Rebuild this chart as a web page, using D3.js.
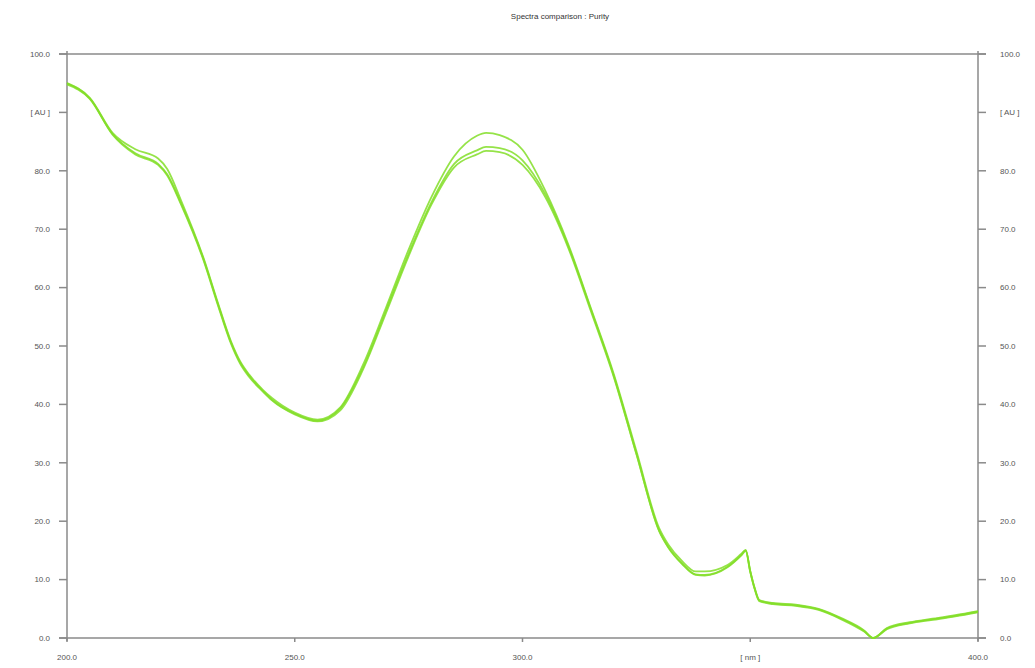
<!DOCTYPE html>
<html>
<head>
<meta charset="utf-8">
<script src="https://cdn.jsdelivr.net/npm/d3@7"></script>
<style>
  body { margin: 0; background: #fff; }
  text { font-family: Arial, "Liberation Sans", sans-serif; }
</style>
</head>
<body>
<div id="chart"></div>
<script>
var width = 1035,
    height = 668,
    margin = {top: 54, right: 57, bottom: 30, left: 67};

// wavelength [nm] and the three absorbance spectra [AU]
var wavelengths = [200,205,210,215,220,222,225,230,233,236,238,240,243,245,250,255,260,265,270,275,280,285,290,
                   292,295,300,305,310,315,320,325,330,332,335,338,340,345,348,349,350,351,352,355,
                   360,365,370,375,377,380,385,390,395,400];

var spectrumA = [95.0,92.5,86.5,83.7,82.1,80.3,75.0,65.0,57.7,50.8,47.4,45.1,42.5,41.1,38.6,37.4,39.5,46.8,56.5,66.5,75.5,82.5,86.0,
                 86.5,86.1,83.6,76.6,67.5,56.5,45.3,32.0,18.8,16.0,13.2,11.4,11.4,12.5,14.4,15.1,11.5,8.5,6.5,6.0,
                 5.7,5.0,3.4,1.3,0.0,1.7,2.7,3.3,3.9,4.6];

var spectrumB = [95.0,92.4,86.3,83.0,81.2,79.4,74.5,64.8,57.5,50.6,47.2,44.9,42.3,40.8,38.4,37.2,39.3,46.3,56.0,65.8,74.6,81.2,83.5,
                 84.1,83.9,81.8,76.0,67.2,56.3,45.0,31.6,18.4,15.6,12.8,10.9,10.8,12.2,14.2,15.0,11.4,8.4,6.4,5.9,
                 5.6,4.9,3.3,1.2,0.0,1.6,2.6,3.2,3.8,4.5];

var spectrumC = [94.8,92.3,86.2,82.8,81.0,79.2,74.3,64.6,57.3,50.4,47.0,44.7,42.2,40.7,38.3,37.1,39.0,46.0,55.6,65.4,74.2,80.6,82.8,
                 83.4,83.2,81.0,75.5,66.9,56.0,44.8,31.5,18.3,15.5,12.7,10.8,10.7,12.1,14.1,14.9,11.3,8.3,6.3,5.8,
                 5.5,4.8,3.2,1.1,0.0,1.5,2.5,3.1,3.7,4.4];

var series = [spectrumA, spectrumB, spectrumC];

var yTicks = [0,10,20,30,40,50,60,70,80,90,100];
var yTickLabels = ["0.0","10.0","20.0","30.0","40.0","50.0","60.0","70.0","80.0","[ AU ]","100.0"];
var xTicks = [200,250,300,350,400];
var xTickLabels = ["200.0","250.0","300.0","[ nm ]","400.0"];
var title = "Spectra comparison : Purity";

var x = d3.scaleLinear().domain([200, 400]).range([margin.left, width - margin.right]);
var y = d3.scaleLinear().domain([0, 100]).range([height - margin.bottom, margin.top]);

var svg = d3.select("#chart").append("svg")
  .attr("width", width)
  .attr("height", height);

var axisColor = "#8a8a8a",
    labelColor = "#555";

// title
svg.append("text")
  .attr("x", 560)
  .attr("y", 19)
  .attr("text-anchor", "middle")
  .style("font-size", "8px")
  .style("fill", "#333")
  .text(title);

// frame: top and bottom lines, left and right axes
svg.append("line")
  .attr("x1", x(200) - 8).attr("x2", x(400) + 8)
  .attr("y1", y(100)).attr("y2", y(100))
  .style("stroke", axisColor).style("stroke-width", 1.5);
svg.append("line")
  .attr("x1", x(200) - 8).attr("x2", x(400) + 8)
  .attr("y1", y(0)).attr("y2", y(0))
  .style("stroke", axisColor).style("stroke-width", 1.5);
[200, 400].forEach(function(v) {
  svg.append("line")
    .attr("x1", x(v)).attr("x2", x(v))
    .attr("y1", y(100) - 3).attr("y2", y(0) + 3)
    .style("stroke", axisColor).style("stroke-width", 1.5);
});

// y ticks, both sides
var yt = svg.selectAll(".ytick")
  .data(yTicks)
  .enter().append("g")
  .attr("class", "ytick");

yt.append("line")
  .attr("x1", x(200) - 8).attr("x2", x(200))
  .attr("y1", function(d){ return y(d); }).attr("y2", function(d){ return y(d); })
  .style("stroke", axisColor).style("stroke-width", 1.5);
yt.append("line")
  .attr("x1", x(400)).attr("x2", x(400) + 8)
  .attr("y1", function(d){ return y(d); }).attr("y2", function(d){ return y(d); })
  .style("stroke", axisColor).style("stroke-width", 1.5);
yt.append("text")
  .attr("x", 50)
  .attr("y", function(d){ return y(d); })
  .attr("dy", "0.35em")
  .attr("text-anchor", "end")
  .style("font-size", "8px")
  .style("fill", labelColor)
  .text(function(d, i){ return yTickLabels[i]; });
yt.append("text")
  .attr("x", 1000)
  .attr("y", function(d){ return y(d); })
  .attr("dy", "0.35em")
  .attr("text-anchor", "start")
  .style("font-size", "8px")
  .style("fill", labelColor)
  .text(function(d, i){ return yTickLabels[i]; });

// x ticks
var xt = svg.selectAll(".xtick")
  .data(xTicks)
  .enter().append("g")
  .attr("class", "xtick");

xt.append("line")
  .attr("x1", function(d){ return x(d); }).attr("x2", function(d){ return x(d); })
  .attr("y1", y(0)).attr("y2", y(0) + 4)
  .style("stroke", axisColor).style("stroke-width", 1.5);
xt.append("text")
  .attr("x", function(d){ return x(d); })
  .attr("y", y(0) + 22)
  .attr("text-anchor", "middle")
  .style("font-size", "8px")
  .style("fill", labelColor)
  .text(function(d, i){ return xTickLabels[i]; });

// spectra
var line = d3.line()
  .curve(d3.curveMonotoneX)
  .x(function(d, i){ return x(wavelengths[i]); })
  .y(function(d){ return y(d); });

svg.selectAll(".spectrum")
  .data(series)
  .enter().append("path")
  .attr("class", "spectrum")
  .attr("d", line)
  .style("fill", "none")
  .style("stroke", "#82de28")
  .style("stroke-width", 1.8)
  .style("stroke-opacity", 0.85);
</script>
</body>
</html>
